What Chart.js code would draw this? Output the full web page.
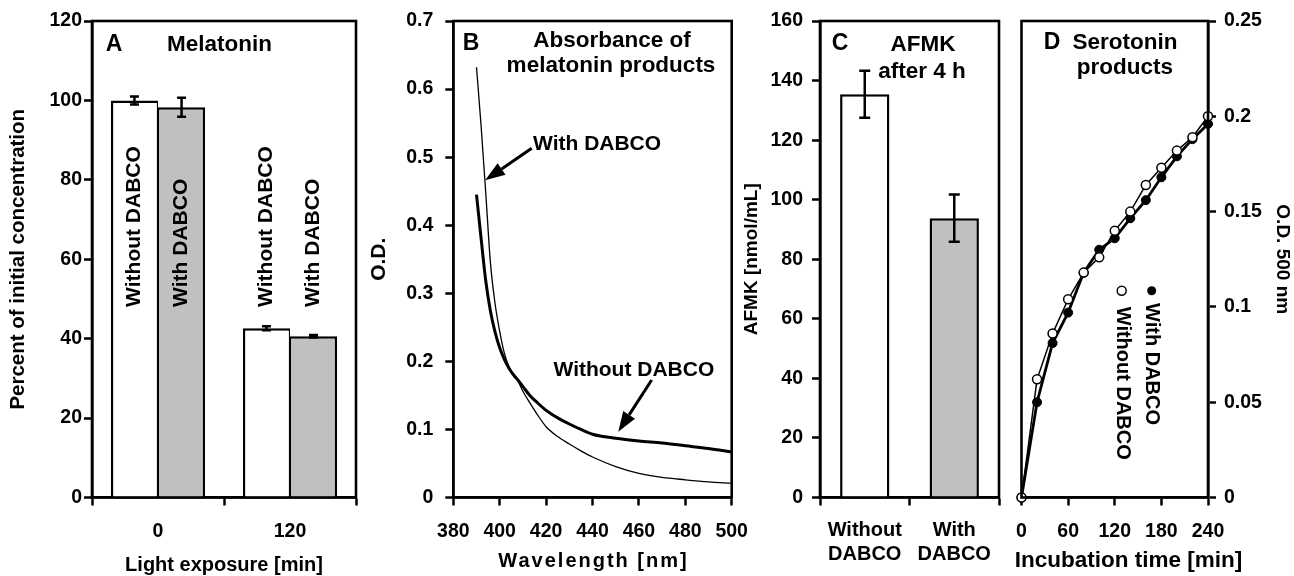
<!DOCTYPE html>
<html><head><meta charset="utf-8">
<script src="https://cdn.jsdelivr.net/npm/chart.js@4.4.1/dist/chart.umd.min.js"></script>
<style>
html,body{margin:0;padding:0;background:#fff;}
#wrap{position:relative;width:1294px;height:576px;overflow:hidden;background:#fff;}
canvas{position:absolute;left:0;top:0;}
</style></head><body>
<div id="wrap">
<canvas id="cA" width="1294" height="576"></canvas>
<canvas id="cB" width="1294" height="576"></canvas>
<canvas id="cC" width="1294" height="576"></canvas>
<canvas id="cD" width="1294" height="576"></canvas>
</div>
<script>
// ---------- data ----------
// Panel A: melatonin remaining
const lightExposure = ['0', '120'];
const melatoninWithout = [100, 42.6];
const melatoninWith = [98.3, 40.6];
const melatoninWithoutErr = [1.0, 0.5];
const melatoninWithErr = [2.4, 0.3];

// Panel B: absorbance spectra
const wavelength = [390, 392, 394, 396, 398, 400, 402, 404, 406, 408, 410, 413, 416, 420, 425, 430, 435, 440, 450, 460, 470, 480, 490, 500];
const odWithDabco = [0.632, 0.545, 0.447, 0.345, 0.285, 0.244, 0.212, 0.192, 0.180, 0.170, 0.156, 0.139, 0.123, 0.104, 0.0895, 0.0785, 0.0685, 0.0595, 0.0455, 0.0355, 0.0295, 0.026, 0.023, 0.021];
const odWithoutDabco = [0.445, 0.380, 0.318, 0.274, 0.243, 0.220, 0.203, 0.190, 0.180, 0.172, 0.163, 0.150, 0.140, 0.128, 0.117, 0.108, 0.100, 0.093, 0.087, 0.083, 0.080, 0.076, 0.072, 0.067];

// Panel C: AFMK after 4 h
const afmkGroups = [['Without', 'DABCO'], ['With', 'DABCO']];
const afmkValues = [135.4, 93.8];
const afmkErr = [7.9, 7.9];

// Panel D: serotonin products
const incubationTime = [0, 20, 40, 60, 80, 100, 120, 140, 160, 180, 200, 220, 240];
const serotoninWithout = [0, 0.062, 0.086, 0.104, 0.118, 0.126, 0.140, 0.150, 0.164, 0.173, 0.182, 0.189, 0.200];
const serotoninWith = [0, 0.050, 0.081, 0.097, 0.118, 0.130, 0.136, 0.1465, 0.156, 0.168, 0.179, 0.188, 0.196];

// ---------- layout & style ----------
const FONT = "'Liberation Sans', Arial, Helvetica, sans-serif";
const W = 1294, H = 576, TOP = 21, BOTTOM = 497.5;
Chart.defaults.font.family = FONT;
Chart.defaults.font.weight = 'bold';
Chart.defaults.color = '#000';

const f = (size) => ({family: FONT, size: size, weight: 'bold'});
const xAxisFit = (axis) => { axis.height = H - BOTTOM; axis.paddingLeft = 0; axis.paddingRight = 0; };
const yAxisFit = (width) => (axis) => { axis.width = width; axis.paddingTop = 0; axis.paddingBottom = 0; };
const gridOpts = (offset) => ({display: true, offset: offset, drawOnChartArea: false, drawTicks: true, tickLength: 8, tickWidth: 2.5, tickColor: '#000', color: '#000'});
const borderOpts = {display: true, color: '#000', width: 2.6};
const plainNum = (v) => String(parseFloat(Number(v).toFixed(4)));
const baseOpts = {responsive: false, animation: false, devicePixelRatio: 1, events: [],
  plugins: {legend: {display: false}, tooltip: {enabled: false}}};

const framePlugin = {id: 'frame', afterDatasetsDraw(chart) {
  const {ctx, chartArea: a} = chart;
  ctx.save(); ctx.lineWidth = 2.6; ctx.strokeStyle = '#000';
  ctx.strokeRect(a.left, a.top, a.right - a.left, a.bottom - a.top);
  ctx.restore();
}};

function txt(ctx, s, x, y, size, align, rot, spacing) {
  ctx.save();
  ctx.font = 'bold ' + size + 'px ' + FONT;
  ctx.fillStyle = '#000'; ctx.textAlign = align || 'center'; ctx.textBaseline = 'middle';
  if (spacing) ctx.letterSpacing = spacing;
  ctx.translate(x, y); ctx.rotate(rot || 0); ctx.fillText(s, 0, 0);
  ctx.restore();
}
function drawErr(chart, dsIndex, errs, cap) {
  const meta = chart.getDatasetMeta(dsIndex), ys = chart.scales.y, ctx = chart.ctx;
  const vals = chart.data.datasets[dsIndex].data;
  ctx.save(); ctx.strokeStyle = '#000'; ctx.lineWidth = 2.5;
  meta.data.forEach((bar, i) => {
    const x = bar.x, hi = ys.getPixelForValue(vals[i] + errs[i]), lo = ys.getPixelForValue(vals[i] - errs[i]);
    ctx.beginPath();
    ctx.moveTo(x, hi); ctx.lineTo(x, lo);
    ctx.moveTo(x - cap / 2, hi); ctx.lineTo(x + cap / 2, hi);
    ctx.moveTo(x - cap / 2, lo); ctx.lineTo(x + cap / 2, lo);
    ctx.stroke();
  });
  ctx.restore();
}
function arrow(ctx, x1, y1, x2, y2) {
  const ang = Math.atan2(y2 - y1, x2 - x1), L = 20, hw = 7;
  const bx = x2 - L * Math.cos(ang), by = y2 - L * Math.sin(ang);
  ctx.save(); ctx.strokeStyle = '#000'; ctx.fillStyle = '#000'; ctx.lineWidth = 3;
  ctx.beginPath(); ctx.moveTo(x1, y1); ctx.lineTo(bx, by); ctx.stroke();
  ctx.beginPath(); ctx.moveTo(x2, y2);
  ctx.lineTo(bx + hw * Math.sin(ang), by - hw * Math.cos(ang));
  ctx.lineTo(bx - hw * Math.sin(ang), by + hw * Math.cos(ang));
  ctx.closePath(); ctx.fill();
  ctx.restore();
}

// ---------- Panel A ----------
const annotA = {id: 'annotA', afterDraw(chart) {
  const ctx = chart.ctx, ys = chart.scales.y;
  txt(ctx, 'A', 114, 45, 23);
  txt(ctx, 'Melatonin', 219.5, 45, 22.5);
  chart.data.datasets.forEach((ds, di) => {
    chart.getDatasetMeta(di).data.forEach((bar) => {
      txt(ctx, ds.label, bar.x, ys.getPixelForValue(48), 21, 'left', -Math.PI / 2);
    });
  });
  drawErr(chart, 0, melatoninWithoutErr, 9);
  drawErr(chart, 1, melatoninWithErr, 9);
}};
new Chart(document.getElementById('cA'), {
  type: 'bar',
  data: {labels: lightExposure, datasets: [
    {label: 'Without DABCO', data: melatoninWithout, backgroundColor: '#ffffff', borderColor: '#000',
     borderWidth: {top: 2.5, left: 2.5, right: 1.3, bottom: 0}, borderSkipped: false, categoryPercentage: 0.714, barPercentage: 1},
    {label: 'With DABCO', data: melatoninWith, backgroundColor: '#c0c0c0', borderColor: '#000',
     borderWidth: {top: 2.5, left: 1.3, right: 2.5, bottom: 0}, borderSkipped: false, categoryPercentage: 0.714, barPercentage: 1}
  ]},
  options: Object.assign({}, baseOpts, {
    layout: {padding: {left: 0, top: TOP, right: W - 356, bottom: 0}},
    scales: {
      x: {grid: gridOpts(true), offset: true, border: borderOpts, ticks: {font: f(19.5), padding: 14},
          title: {display: true, text: 'Light exposure [min]', font: f(20), padding: {top: 0, bottom: -1}}, afterFit: xAxisFit},
      y: {min: 0, max: 120, ticks: {stepSize: 20, font: f(19.5), padding: 2}, grid: gridOpts(false), border: borderOpts,
          title: {display: true, text: 'Percent of initial concentration', font: f(20.5), padding: {top: 5.7, bottom: 0}}, afterFit: yAxisFit(92)}
    }
  }),
  plugins: [framePlugin, annotA]
});

// ---------- Panel B ----------
const annotB = {id: 'annotB', afterDraw(chart) {
  const ctx = chart.ctx, xs = chart.scales.x, ys = chart.scales.y;
  txt(ctx, 'B', 471, 44, 23);
  txt(ctx, 'Absorbance of', 612, 41, 22.5);
  txt(ctx, 'melatonin products', 611, 66, 22.5);
  txt(ctx, 'With DABCO', 533, 144, 21, 'left');
  txt(ctx, 'Without DABCO', 553.5, 370, 21, 'left');
  arrow(ctx, xs.getPixelForValue(413.8), ys.getPixelForValue(0.513), xs.getPixelForValue(393.7), ys.getPixelForValue(0.466));
  arrow(ctx, xs.getPixelForValue(465.5), ys.getPixelForValue(0.1726), xs.getPixelForValue(451.1), ys.getPixelForValue(0.0967));
  txt(ctx, 'Wavelength [nm]', (chart.chartArea.left + chart.chartArea.right) / 2 + 1, 561, 20, 'center', 0, '2px');
}};
new Chart(document.getElementById('cB'), {
  type: 'line',
  data: {datasets: [
    {label: 'With DABCO', data: wavelength.map((w, i) => ({x: w, y: odWithDabco[i]})), borderColor: '#000', borderWidth: 1.3,
     pointRadius: 0, cubicInterpolationMode: 'monotone', fill: false, clip: false},
    {label: 'Without DABCO', data: wavelength.map((w, i) => ({x: w, y: odWithoutDabco[i]})), borderColor: '#000', borderWidth: 3,
     pointRadius: 0, cubicInterpolationMode: 'monotone', fill: false, clip: false}
  ]},
  options: Object.assign({}, baseOpts, {
    layout: {padding: {left: 0, top: TOP, right: W - 731.7, bottom: 0}},
    scales: {
      x: {type: 'linear', min: 380, max: 500, ticks: {stepSize: 20, font: f(19.5), padding: 14}, grid: gridOpts(false), border: borderOpts,
          afterFit: xAxisFit},
      y: {min: 0, max: 0.7, ticks: {stepSize: 0.1, font: f(19.5), padding: 12, callback: plainNum}, grid: gridOpts(false), border: borderOpts,
          title: {display: true, text: 'O.D.', font: f(21), padding: {top: 366.4, bottom: 0}}, afterFit: yAxisFit(453.3)}
    }
  }),
  plugins: [framePlugin, annotB]
});

// ---------- Panel C ----------
const annotC = {id: 'annotC', afterDraw(chart) {
  const ctx = chart.ctx;
  txt(ctx, 'C', 840, 44, 23);
  txt(ctx, 'AFMK', 923, 45, 22.5);
  txt(ctx, 'after 4 h', 922, 72, 22.5);
  drawErr(chart, 0, afmkErr, 11);
}};
new Chart(document.getElementById('cC'), {
  type: 'bar',
  data: {labels: afmkGroups, datasets: [
    {label: 'AFMK', data: afmkValues, backgroundColor: ['#ffffff', '#c0c0c0'], borderColor: '#000',
     borderWidth: {top: 2.5, left: 2.5, right: 2.5, bottom: 0}, borderSkipped: false, categoryPercentage: 0.551, barPercentage: 1}
  ]},
  options: Object.assign({}, baseOpts, {
    layout: {padding: {left: 0, top: TOP, right: W - 999, bottom: 0}},
    scales: {
      x: {grid: gridOpts(true), offset: true, border: borderOpts, ticks: {font: f(20), padding: 12.5}, afterFit: xAxisFit},
      y: {min: 0, max: 160, ticks: {stepSize: 20, font: f(19.5), padding: 9}, grid: gridOpts(false), border: borderOpts,
          title: {display: true, text: 'AFMK [nmol/mL]', font: f(19), padding: {top: 740.6, bottom: 0}}, afterFit: yAxisFit(820)}
    }
  }),
  plugins: [framePlugin, annotC]
});

// ---------- Panel D ----------
const annotD = {id: 'annotD', afterDraw(chart) {
  const ctx = chart.ctx;
  txt(ctx, 'D', 1052, 42.5, 23);
  txt(ctx, 'Serotonin', 1125, 42.5, 22.5);
  txt(ctx, 'products', 1125, 68, 22.5);
  // rotated legend
  ctx.save();
  ctx.fillStyle = '#000'; ctx.beginPath(); ctx.arc(1151.7, 290.7, 4.5, 0, Math.PI * 2); ctx.fill();
  ctx.fillStyle = '#fff'; ctx.strokeStyle = '#000'; ctx.lineWidth = 1.5;
  ctx.beginPath(); ctx.arc(1121.7, 290.7, 4.5, 0, Math.PI * 2); ctx.fill(); ctx.stroke();
  ctx.restore();
  txt(ctx, 'With DABCO', 1151.5, 303, 20, 'left', Math.PI / 2);
  txt(ctx, 'Without DABCO', 1123, 306.7, 20, 'left', Math.PI / 2);
  // x-axis title (wider than the plot in the original)
  txt(ctx, 'Incubation time [min]', 1128.5, 561, 22.5);
}};
new Chart(document.getElementById('cD'), {
  type: 'line',
  data: {datasets: [
    {label: 'Without DABCO', data: incubationTime.map((t, i) => ({x: t, y: serotoninWithout[i]})), borderColor: '#000', borderWidth: 1.5,
     pointRadius: 4.5, pointBorderWidth: 1.5, pointBackgroundColor: '#fff', pointBorderColor: '#000', tension: 0, clip: false},
    {label: 'With DABCO', data: incubationTime.map((t, i) => ({x: t, y: serotoninWith[i]})), borderColor: '#000', borderWidth: 2.8,
     pointRadius: 4.5, pointBorderWidth: 1, pointBackgroundColor: '#000', pointBorderColor: '#000', tension: 0, clip: false}
  ]},
  options: Object.assign({}, baseOpts, {
    layout: {padding: {left: 1021.5, top: TOP, right: 0, bottom: 0}},
    scales: {
      x: {type: 'linear', min: 0, max: 240, ticks: {stepSize: 60, font: f(19.5), padding: 14}, grid: gridOpts(false), border: borderOpts,
          afterFit: xAxisFit},
      y: {position: 'right', min: 0, max: 0.25, ticks: {stepSize: 0.05, font: f(19.5), padding: 8, callback: plainNum}, grid: gridOpts(false), border: borderOpts,
          title: {display: true, text: 'O.D. 500 nm', font: f(19), padding: {top: 0, bottom: 0}}, afterFit: yAxisFit(86)}
    }
  }),
  plugins: [framePlugin, annotD]
});
</script>
</body></html>
